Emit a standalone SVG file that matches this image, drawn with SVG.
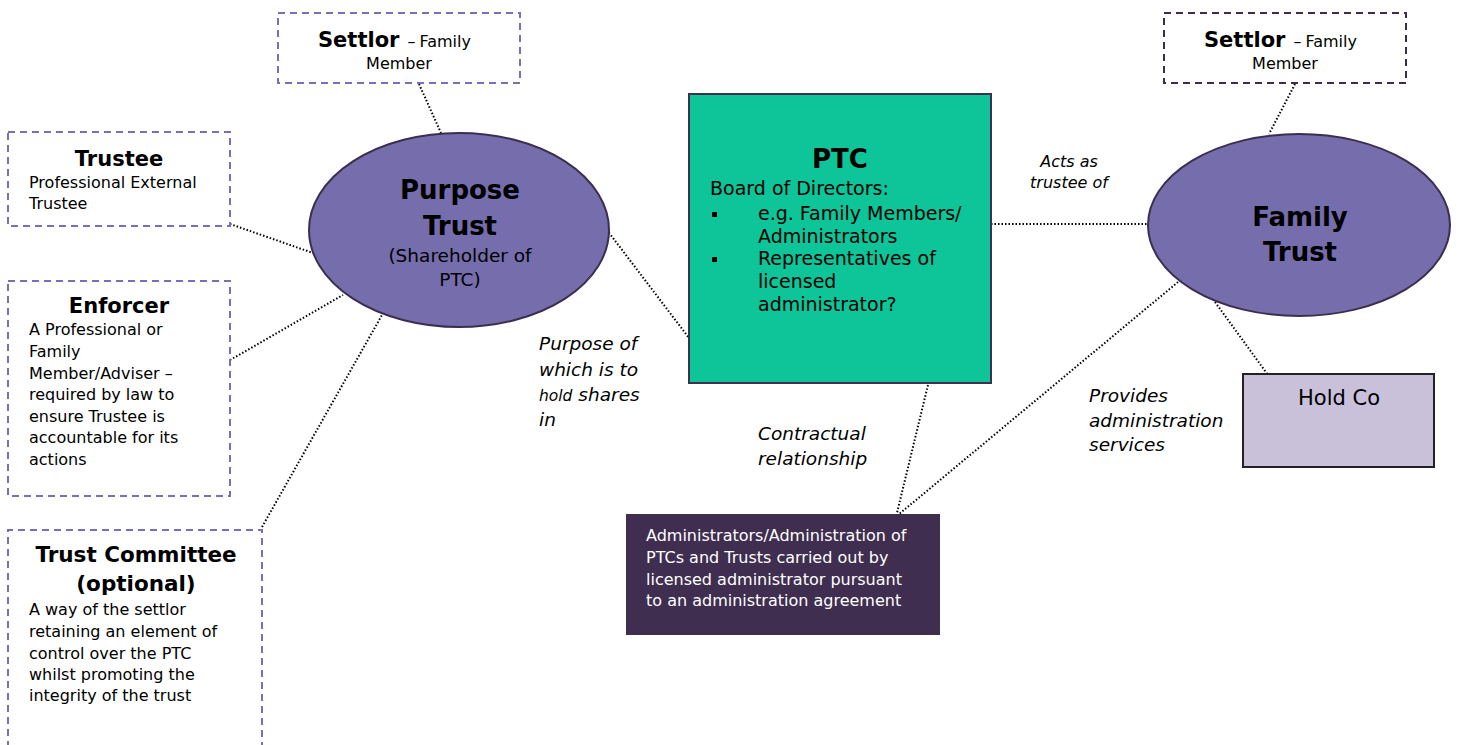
<svg xmlns="http://www.w3.org/2000/svg" width="1458" height="745" viewBox="0 0 1458 745">
<style>
text{font-family:"DejaVu Sans",Verdana,sans-serif;fill:#000}
.b{font-weight:bold}
.it{font-style:italic}
.dl{fill:#fff;stroke:#7a6fb4;stroke-width:2;stroke-dasharray:7 5}
.dd{fill:#fff;stroke:#3b2f48;stroke-width:2;stroke-dasharray:7 5}
.ell{fill:#756dac;stroke:#3b2f4d;stroke-width:2}
.con line{stroke:#000;stroke-width:2;stroke-dasharray:1.5 2}
.w{fill:#fff}
</style>
<rect width="1458" height="745" fill="#fff"/>
<g class="con">
<line x1="419" y1="84" x2="441" y2="133"/>
<line x1="230" y1="224" x2="313" y2="253"/>
<line x1="230" y1="360" x2="343" y2="295"/>
<line x1="262" y1="527" x2="382" y2="315"/>
<line x1="594" y1="213" x2="689" y2="338"/>
<line x1="991" y1="224" x2="1148" y2="224"/>
<line x1="1295" y1="84" x2="1269" y2="134"/>
<line x1="1215" y1="302" x2="1268" y2="375"/>
<line x1="928" y1="385" x2="896" y2="517"/>
<line x1="1178" y1="282" x2="898" y2="515"/>
</g>
<g id="settlor-left">
<rect class="dl" x="278" y="13" width="242" height="70"/>
<text x="318" y="47"><tspan class="b" font-size="21">Settlor</tspan><tspan font-size="16" dx="8">–</tspan><tspan font-size="16" dx="4">Family</tspan></text>
<text x="399" y="69" text-anchor="middle" font-size="16">Member</text>
</g>
<g id="trustee">
<rect class="dl" x="8" y="132" width="222" height="94"/>
<text x="119" y="166" text-anchor="middle" class="b" font-size="21">Trustee</text>
<text x="29" y="188" font-size="16">Professional External</text>
<text x="29" y="209" font-size="16">Trustee</text>
</g>
<g id="enforcer">
<rect class="dl" x="8" y="281" width="222" height="215"/>
<text x="119" y="313" text-anchor="middle" class="b" font-size="21">Enforcer</text>
<text font-size="16"><tspan x="29" y="335">A Professional or</tspan><tspan x="29" y="357">Family</tspan><tspan x="29" y="379">Member/Adviser –</tspan><tspan x="29" y="400">required by law to</tspan><tspan x="29" y="422">ensure Trustee is</tspan><tspan x="29" y="443">accountable for its</tspan><tspan x="29" y="465">actions</tspan></text>
</g>
<g id="trust-committee">
<path class="dl" d="M8 760 V530 H262 V760" fill="none"/>
<text x="136" y="562" text-anchor="middle" class="b" font-size="21.5">Trust Committee</text>
<text x="136" y="591" text-anchor="middle" class="b" font-size="21.5">(optional)</text>
<text font-size="16"><tspan x="29" y="615">A way of the settlor</tspan><tspan x="29" y="637">retaining an element of</tspan><tspan x="29" y="659">control over the PTC</tspan><tspan x="29" y="680">whilst promoting the</tspan><tspan x="29" y="701">integrity of the trust</tspan></text>
</g>
<g id="purpose-trust">
<ellipse class="ell" cx="459" cy="230" rx="150" ry="97"/>
<text x="460" y="199" text-anchor="middle" class="b" font-size="26">Purpose</text>
<text x="460" y="235" text-anchor="middle" class="b" font-size="26">Trust</text>
<text x="460" y="262" text-anchor="middle" font-size="18.5">(Shareholder of</text>
<text x="460" y="286" text-anchor="middle" font-size="18.5">PTC)</text>
</g>
<g id="ptc">
<rect x="689" y="94" width="302" height="289" fill="#0dc599" stroke="#3d3050" stroke-width="2"/>
<text x="840" y="168" text-anchor="middle" class="b" font-size="26">PTC</text>
<text x="710" y="195" font-size="19">Board of Directors:</text>
<rect x="712" y="212" width="5" height="5" fill="#000"/>
<rect x="712" y="257" width="5" height="5" fill="#000"/>
<text font-size="19"><tspan x="758" y="220">e.g. Family Members/</tspan><tspan x="758" y="243">Administrators</tspan><tspan x="758" y="265">Representatives of</tspan><tspan x="758" y="288">licensed</tspan><tspan x="758" y="311">administrator?</tspan></text>
</g>
<g id="settlor-right">
<rect class="dd" x="1164" y="13" width="242" height="70"/>
<text x="1204" y="47"><tspan class="b" font-size="21">Settlor</tspan><tspan font-size="16" dx="8">–</tspan><tspan font-size="16" dx="4">Family</tspan></text>
<text x="1285" y="69" text-anchor="middle" font-size="16">Member</text>
</g>
<g id="family-trust">
<ellipse class="ell" cx="1299" cy="225" rx="151" ry="91"/>
<text x="1300" y="226" text-anchor="middle" class="b" font-size="26">Family</text>
<text x="1300" y="261" text-anchor="middle" class="b" font-size="26">Trust</text>
</g>
<g id="hold-co">
<rect x="1243" y="374" width="191" height="93" fill="#c9c0da" stroke="#222" stroke-width="2"/>
<text x="1339" y="405" text-anchor="middle" font-size="21">Hold Co</text>
</g>
<g id="administrator">
<rect x="626" y="514" width="314" height="121" fill="#3f2e50"/>
<text font-size="16" class="w"><tspan x="646" y="541">Administrators/Administration of</tspan><tspan x="646" y="563">PTCs and Trusts carried out by</tspan><tspan x="646" y="585">licensed administrator pursuant</tspan><tspan x="646" y="606">to an administration agreement</tspan></text>
</g>
<g id="labels">
<text class="it" font-size="18.5"><tspan x="539" y="350">Purpose of</tspan><tspan x="539" y="376">which is to</tspan><tspan x="539" y="401"><tspan font-size="15.5">hold</tspan> shares</tspan><tspan x="539" y="426">in</tspan></text>
<text class="it" font-size="18.5"><tspan x="758" y="440">Contractual</tspan><tspan x="758" y="465">relationship</tspan></text>
<text class="it" font-size="16" text-anchor="middle"><tspan x="1069" y="167">Acts as</tspan><tspan x="1069" y="188">trustee of</tspan></text>
<text class="it" font-size="18.5"><tspan x="1089" y="402">Provides</tspan><tspan x="1089" y="427">administration</tspan><tspan x="1089" y="451">services</tspan></text>
</g>
</svg>
